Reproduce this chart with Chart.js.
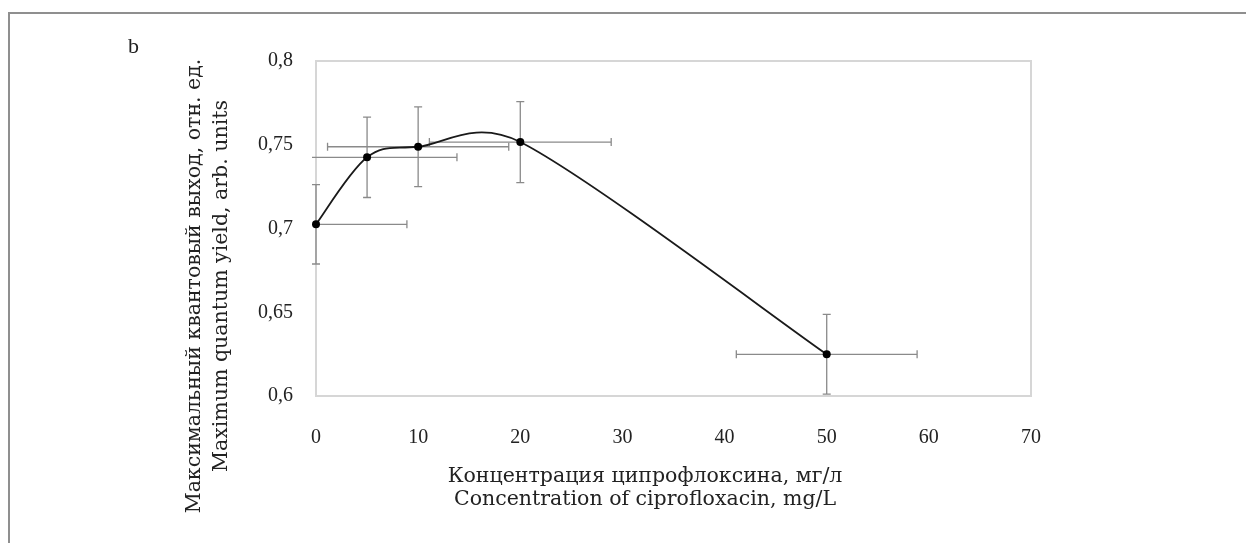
<!DOCTYPE html>
<html><head><meta charset="utf-8">
<script src="https://cdn.jsdelivr.net/npm/chart.js@4.4.1/dist/chart.umd.min.js"></script>
<style>
html,body{margin:0;padding:0;background:#fff;}
#wrap{position:relative;width:1246px;height:543px;overflow:hidden;background:#fff;}
#frame{position:absolute;left:8px;top:12px;width:1300px;height:600px;border-top:2px solid #8f8f8f;border-left:2px solid #8f8f8f;}
canvas{position:absolute;left:0;top:0;}
</style></head><body>
<div id="wrap"><div id="frame"></div><canvas id="c" width="1246" height="543"></canvas></div>
<script>
const concentration = [0, 5, 10, 20, 50];
const quantumYield = [0.7025, 0.7425, 0.7488, 0.7516, 0.6249];
const yieldError = [0.0237, 0.0240, 0.0238, 0.0242, 0.0238];
const concentrationError = [8.9, 8.8, 8.87, 8.9, 8.85];
const yTickValues = [0.6, 0.65, 0.7, 0.75, 0.8];
const xTickValues = [0, 10, 20, 30, 40, 50, 60, 70];
const panelLabel = 'b';
const yTitleLines = ['Максимальный квантовый выход, отн. ед.', 'Maximum quantum yield, arb. units'];
const xTitleLines = ['Концентрация ципрофлоксина, мг/л', 'Concentration of ciprofloxacin, mg/L'];

const points = concentration.map((x, i) => ({x: x, y: quantumYield[i]}));

// Spreadsheet-style smoothing: Bezier control points from neighbours (1/6 factor),
// limited to half of the adjacent segment length.
const smoothPlugin = {
  id: 'smoothPlugin',
  beforeDatasetsDraw(chart) {
    const meta = chart.getDatasetMeta(0);
    meta.dataset.updateControlPoints(chart.chartArea, meta.iScale.axis);
    const pts = meta.data, n = pts.length;
    for (let i = 0; i < n; i++) {
      const p = pts[i], prev = pts[Math.max(i - 1, 0)], next = pts[Math.min(i + 1, n - 1)];
      const vx = (next.x - prev.x) / 6, vy = (next.y - prev.y) / 6;
      const len = Math.hypot(vx, vy);
      const dPrev = Math.hypot(p.x - prev.x, p.y - prev.y);
      const dNext = Math.hypot(next.x - p.x, next.y - p.y);
      let sb = 1, sf = 1;
      if (len > 0 && len > dPrev / 2) sb = (dPrev / 2) / len;
      if (len > 0 && len > dNext / 2) sf = (dNext / 2) / len;
      p.cp1x = p.x - vx * sb; p.cp1y = p.y - vy * sb;
      p.cp2x = p.x + vx * sf; p.cp2y = p.y + vy * sf;
    }
  }
};

const boxPlugin = {
  id: 'boxPlugin',
  beforeDatasetsDraw(chart) {
    const a = chart.chartArea, ctx = chart.ctx;
    ctx.save();
    ctx.strokeStyle = '#d6d6d6';
    ctx.lineWidth = 2;
    ctx.strokeRect(a.left, a.top, a.right - a.left, a.bottom - a.top);
    ctx.restore();
  }
};

const errorBarPlugin = {
  id: 'errorBarPlugin',
  beforeDatasetsDraw(chart) {
    const xs = chart.scales.x, ys = chart.scales.y, a = chart.chartArea, ctx = chart.ctx;
    const cap = 4;
    ctx.save();
    ctx.strokeStyle = '#8a8a8a';
    ctx.lineWidth = 1.3;
    concentration.forEach((xv, i) => {
      const yv = quantumYield[i];
      const px = xs.getPixelForValue(xv);
      const py = ys.getPixelForValue(yv);
      const yTop = ys.getPixelForValue(yv + yieldError[i]);
      const yBot = ys.getPixelForValue(yv - yieldError[i]);
      ctx.beginPath();
      ctx.moveTo(px, yTop); ctx.lineTo(px, yBot);
      ctx.moveTo(px - cap, yTop); ctx.lineTo(px + cap, yTop);
      ctx.moveTo(px - cap, yBot); ctx.lineTo(px + cap, yBot);
      let xl = xs.getPixelForValue(xv - concentrationError[i]);
      let xr = xs.getPixelForValue(xv + concentrationError[i]);
      let capL = true, capR = true;
      if (xl < a.left) { xl = Math.max(xl, a.left - 4); capL = false; }
      if (xr > a.right) { xr = a.right; capR = false; }
      ctx.moveTo(xl, py); ctx.lineTo(xr, py);
      if (capL) { ctx.moveTo(xl, py - cap); ctx.lineTo(xl, py + cap); }
      if (capR) { ctx.moveTo(xr, py - cap); ctx.lineTo(xr, py + cap); }
      ctx.stroke();
    });
    ctx.restore();
  }
};

const textPlugin = {
  id: 'textPlugin',
  afterDraw(chart) {
    const ctx = chart.ctx;
    ctx.save();
    ctx.fillStyle = '#222';
    ctx.font = '22px "Liberation Serif"';
    ctx.textAlign = 'left';
    ctx.textBaseline = 'alphabetic';
    ctx.fillText(panelLabel, 128, 53);

    ctx.font = '20.5px "DejaVu Serif"';
    ctx.textAlign = 'center';
    const yBase = [200, 227];
    yTitleLines.forEach((t, i) => {
      ctx.save();
      ctx.translate(yBase[i], 286);
      ctx.rotate(-Math.PI / 2);
      ctx.fillText(t, 0, 0);
      ctx.restore();
    });
    const xBase = [482, 505];
    xTitleLines.forEach((t, i) => {
      ctx.fillText(t, 645, xBase[i]);
    });
    ctx.restore();
  }
};

new Chart(document.getElementById('c'), {
  type: 'line',
  data: {
    datasets: [{
      data: points,
      borderColor: '#1a1a1a',
      borderWidth: 1.8,
      tension: 0.4,
      pointRadius: 4,
      pointBackgroundColor: '#000',
      pointBorderColor: '#000',
      pointBorderWidth: 0,
      clip: false,
      fill: false
    }]
  },
  options: {
    responsive: false,
    animation: false,
    devicePixelRatio: 1,
    layout: { padding: { left: 0, top: 61, right: 215, bottom: 0 } },
    plugins: { legend: { display: false }, tooltip: { enabled: false } },
    scales: {
      x: {
        type: 'linear',
        min: 0, max: 70,
        grid: { display: false },
        border: { display: false },
        afterBuildTicks(scale) { scale.ticks = xTickValues.map(v => ({value: v})); },
        afterFit(scale) { scale.height = 147; },
        ticks: { color: '#222', padding: 22, font: { family: '"Liberation Serif"', size: 20 }, maxRotation: 0 }
      },
      y: {
        type: 'linear',
        min: 0.6, max: 0.8,
        grid: { display: false },
        border: { display: false },
        afterBuildTicks(scale) { scale.ticks = yTickValues.map(v => ({value: v})); },
        afterFit(scale) { scale.width = 316; },
        ticks: {
          color: '#222', padding: 15,
          font: { family: '"Liberation Serif"', size: 20 },
          callback: v => String(+v.toFixed(2)).replace('.', ',')
        }
      }
    }
  },
  plugins: [smoothPlugin, boxPlugin, errorBarPlugin, textPlugin]
});
</script>
</body></html>
